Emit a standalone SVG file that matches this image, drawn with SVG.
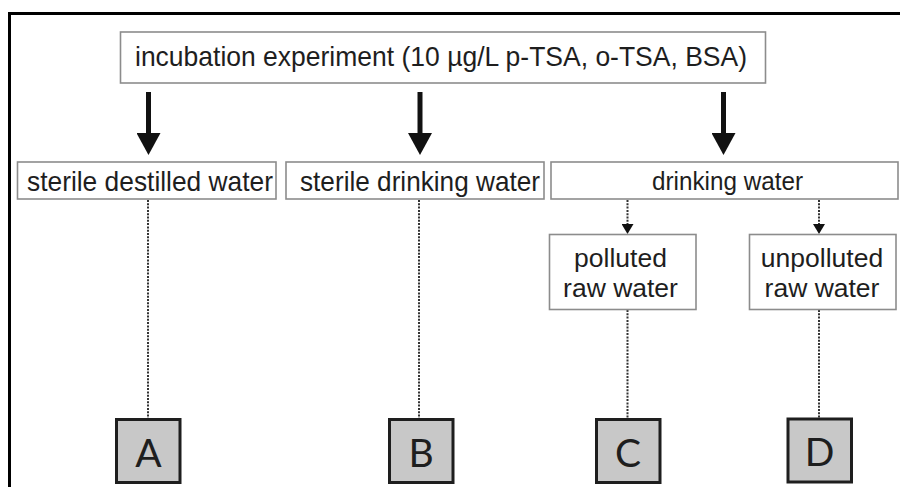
<svg xmlns="http://www.w3.org/2000/svg" width="900" height="487" viewBox="0 0 900 487">
<defs>
<style>
.box{fill:#ffffff;stroke:#8c8c8c;stroke-width:1.6}
.lbox{fill:#c8c8c8;stroke:#1e1e1e;stroke-width:3}
.t{font-family:"Liberation Sans",Arial,sans-serif;font-size:28px;fill:#1e1e1e}
.m{font-size:26.5px;text-anchor:middle}
.L{font-family:Lato,"DejaVu Sans",sans-serif;font-size:39px;fill:#1e1e1e;text-anchor:middle}
.big{stroke:#111;stroke-width:5;fill:none}
.dot{stroke:#333;stroke-width:2;stroke-dasharray:2 1.3;fill:none}
</style>
<marker id="bigHead" viewBox="0 0 22 24" refX="0" refY="12" markerWidth="22" markerHeight="24" markerUnits="userSpaceOnUse" orient="auto">
<path d="M0,0 L22,12 L0,24 Z" fill="#111"/>
</marker>
<marker id="smallHead" viewBox="0 0 10 12" refX="0" refY="6" markerWidth="10" markerHeight="12" markerUnits="userSpaceOnUse" orient="auto">
<path d="M0,0 L10,6 L0,12 Z" fill="#111"/>
</marker>
</defs>
<rect width="900" height="487" fill="#ffffff"/>
<path d="M9.5,487 L9.5,13.5 L900,13.5" fill="none" stroke="#000" stroke-width="3"/>

<g id="connectors">
<line class="big" x1="148.5" y1="92" x2="148.5" y2="133" marker-end="url(#bigHead)"/>
<line class="big" x1="420" y1="92" x2="420" y2="133" marker-end="url(#bigHead)"/>
<line class="big" x1="723.5" y1="92" x2="723.5" y2="133" marker-end="url(#bigHead)"/>
<line class="dot" x1="627.5" y1="200" x2="627.5" y2="224" marker-end="url(#smallHead)"/>
<line class="dot" x1="819" y1="200" x2="819" y2="224" marker-end="url(#smallHead)"/>
<line class="dot" x1="148" y1="200" x2="148" y2="418"/>
<line class="dot" x1="419" y1="200" x2="419" y2="418"/>
<line class="dot" x1="627.5" y1="310" x2="627.5" y2="418"/>
<line class="dot" x1="819" y1="310" x2="819" y2="418"/>
</g>

<g id="n-incubation">
<rect class="box" x="120.5" y="32" width="645" height="51"/>
<text class="t" x="135" y="65.5" textLength="612" lengthAdjust="spacingAndGlyphs">incubation experiment (10 µg/L p-TSA, o-TSA, BSA)</text>
</g>
<g id="n-sterile-destilled">
<rect class="box" x="17.5" y="162" width="258.5" height="37"/>
<text class="t" x="27" y="190.5" textLength="246" lengthAdjust="spacingAndGlyphs">sterile destilled water</text>
</g>
<g id="n-sterile-drinking">
<rect class="box" x="286" y="162" width="258" height="37"/>
<text class="t" x="300" y="190.5" textLength="240" lengthAdjust="spacingAndGlyphs">sterile drinking water</text>
</g>
<g id="n-drinking">
<rect class="box" x="551" y="162" width="347" height="37"/>
<text class="t" x="652" y="190" style="font-size:26px" textLength="151" lengthAdjust="spacingAndGlyphs">drinking water</text>
</g>
<g id="n-polluted">
<rect class="box" x="549.5" y="234.5" width="146.5" height="75"/>
<text class="t m" x="620.5" y="267">polluted</text>
<text class="t m" x="620.5" y="297">raw water</text>
</g>
<g id="n-unpolluted">
<rect class="box" x="749.5" y="234.5" width="146.5" height="75"/>
<text class="t m" x="822" y="267">unpolluted</text>
<text class="t m" x="822" y="297">raw water</text>
</g>
<g id="n-A">
<rect class="lbox" x="116.5" y="419.5" width="63.5" height="63"/>
<text class="L" x="148.5" y="467">A</text>
</g>
<g id="n-B">
<rect class="lbox" x="389.5" y="419.5" width="63.5" height="63"/>
<text class="L" x="421" y="467">B</text>
</g>
<g id="n-C">
<rect class="lbox" x="596.5" y="419.5" width="63.5" height="63"/>
<text class="L" x="628" y="467">C</text>
</g>
<g id="n-D">
<rect class="lbox" x="788" y="419" width="63.5" height="63"/>
<text class="L" x="819.5" y="466">D</text>
</g>
</svg>
